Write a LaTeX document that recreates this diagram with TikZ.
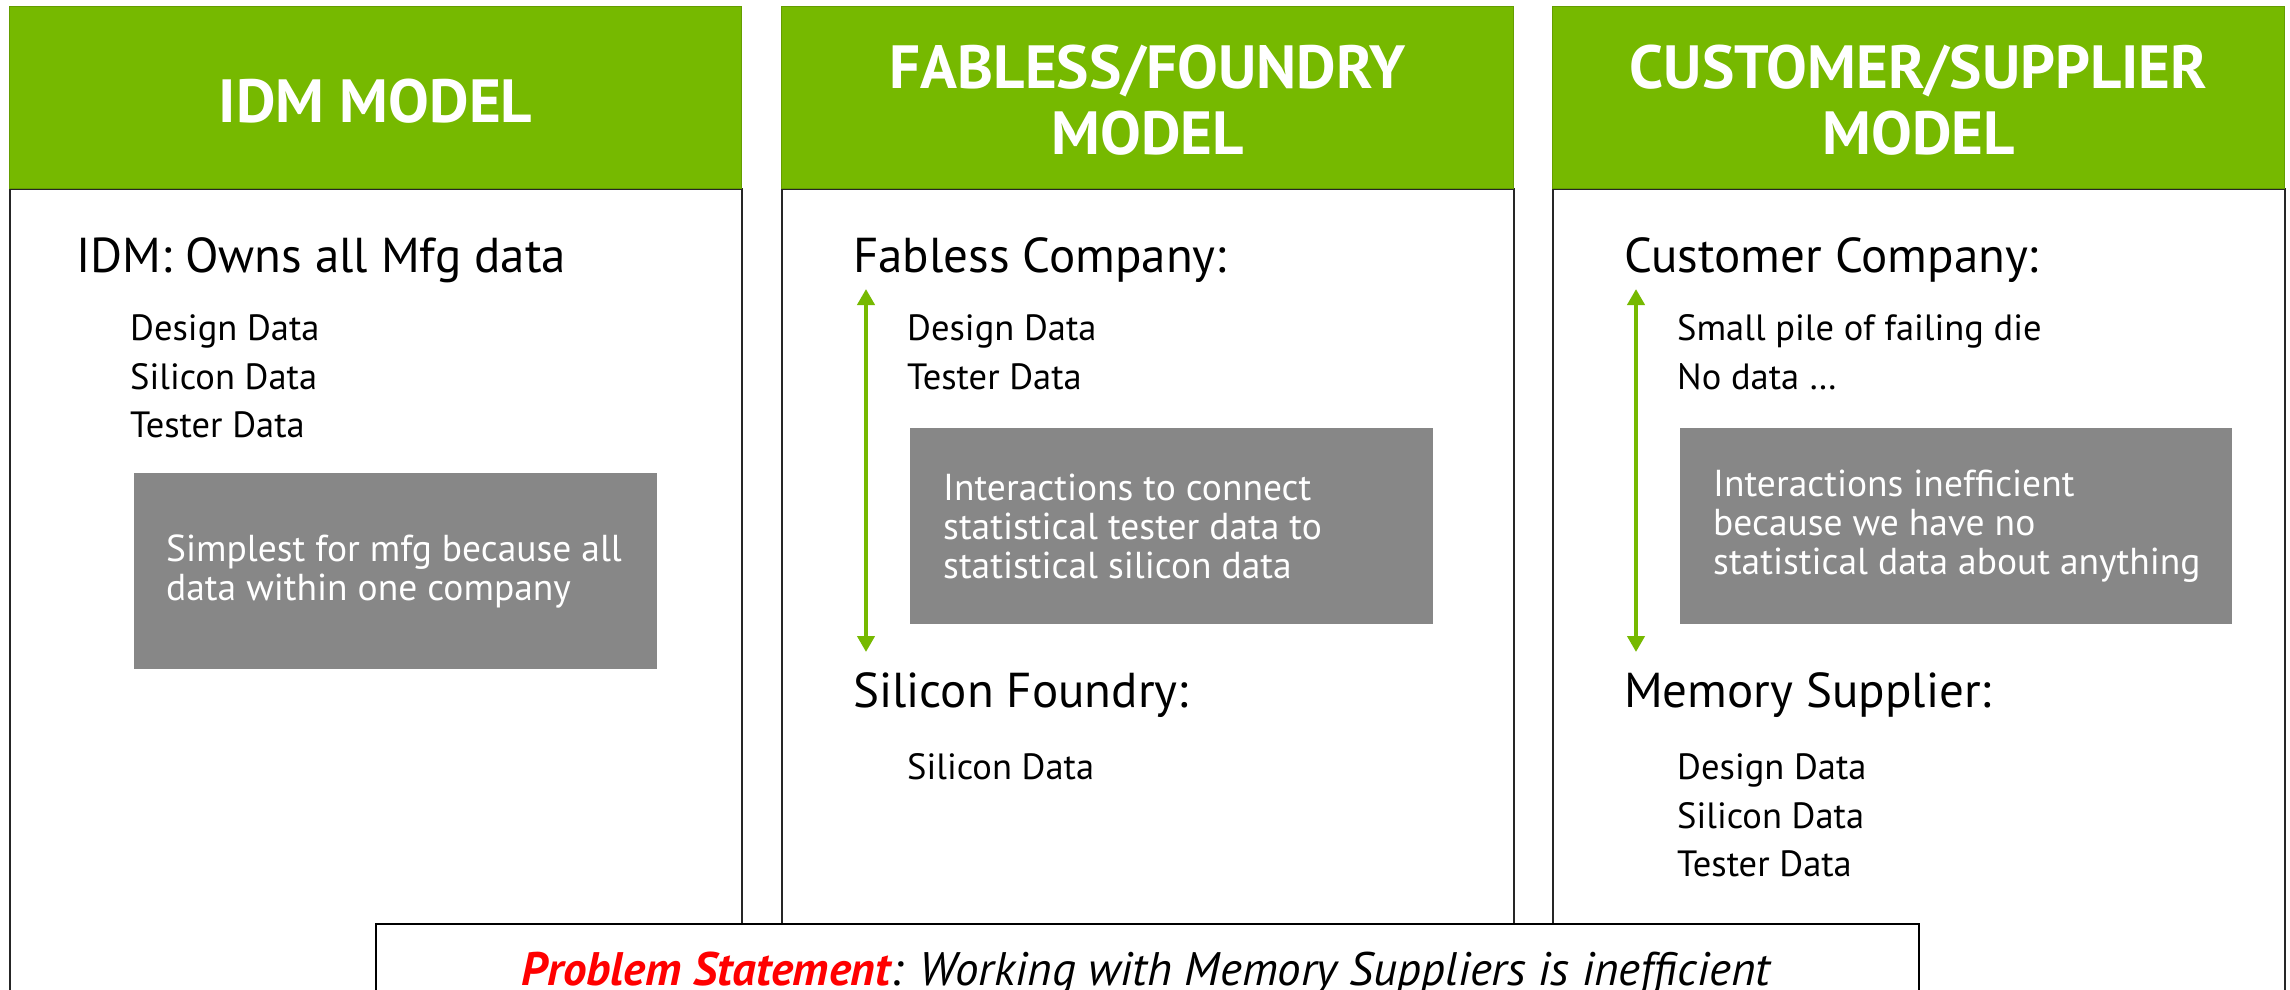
\documentclass[tikz,border=0pt]{standalone}
\usepackage{fontspec}
\setmainfont{PT Sans}
\usetikzlibrary{arrows.meta}
\definecolor{nvgreen}{HTML}{76B900}
\definecolor{boxgray}{HTML}{878787}
\definecolor{probred}{HTML}{FF0000}
\begin{document}
\begin{tikzpicture}[x=1pt,y=-1pt,
  head/.style={fill=nvgreen, draw=nvgreen!85!black, line width=1pt, anchor=north west,
    minimum width=732pt, minimum height=182pt, inner sep=0pt, align=center, text=white,
    font=\fontsize{61}{66}\selectfont\bfseries},
  headtxt/.style={inner sep=0pt, align=center, text=white,
    font=\fontsize{61}{66}\selectfont\bfseries},
  body/.style={draw=black!85, line width=1.5pt, fill=white, anchor=north west,
    minimum width=732pt, minimum height=900pt, inner sep=0pt},
  lbl/.style={anchor=base west, inner sep=0pt, font=\fontsize{49}{54}\selectfont},
  item/.style={anchor=base west, inner sep=0pt, font=\fontsize{36.5}{40}\selectfont},
  graybox/.style={fill=boxgray, draw=none, anchor=north west, inner sep=0pt},
  boxtxt/.style={anchor=west, inner sep=0pt, align=left, text=white,
    font=\fontsize{37.5}{39}\selectfont},
  link/.style={draw=nvgreen, line width=4pt,
    {Triangle[width=17pt,length=16pt]}-{Triangle[width=17pt,length=16pt]}},
]
\clip (0,0) rectangle (2290,989);
\fill[white] (0,0) rectangle (2290,989);

% three column frames
\node[body] (b1) at (9,188) {};
\node[body] (b2) at (781,188) {};
\node[body] (b3) at (1552,188) {};
\node[head] (h1) at (9,6) {};
\node[head] (h2) at (781,6) {};
\node[head] (h3) at (1552,6) {};
\node[headtxt] (h1t) at ([yshift=-4pt]h1.center) {IDM MODEL};
\node[headtxt] (h2t) at ([yshift=-3pt]h2.center) {FABLESS/FOUNDRY\\MODEL};
\node[headtxt] (h3t) at ([yshift=-3pt]h3.center) {CUSTOMER/SUPPLIER\\MODEL};

% IDM column
\node[lbl] (idm) at (76,272) {IDM: Owns all Mfg data};
\node[item] (idm1) at (130,340) {Design Data};
\node[item] (idm2) at (130,389) {Silicon Data};
\node[item] (idm3) at (130,437) {Tester Data};
\node[graybox, minimum width=523pt, minimum height=196pt] (g1) at (134,473) {};
\node[boxtxt] (g1t) at ([xshift=32pt]g1.west) {Simplest for mfg because all\\data within one company};

% fabless / foundry column
\node[lbl] (fab) at (853,272) {Fabless Company:};
\node[item] (fab1) at (907,340) {Design Data};
\node[item] (fab2) at (907,389) {Tester Data};
\node[graybox, minimum width=523pt, minimum height=196pt] (g2) at (910,428) {};
\node[boxtxt] (g2t) at ([xshift=33pt]g2.west) {Interactions to connect\\statistical tester data to\\statistical silicon data};
\node[lbl] (fdy) at (853,707) {Silicon Foundry:};
\node[item] (fdy1) at (907,779) {Silicon Data};
\coordinate (a2top) at (866,289);
\coordinate (a2bot) at (866,652);
\draw[link] (a2top) -- (a2bot);

% customer / supplier column
\node[lbl] (cus) at (1624,272) {Customer Company:};
\node[item] (cus1) at (1677,340) {Small pile of failing die};
\node[item] (cus2) at (1677,389) {No data …};
\node[graybox, minimum width=552pt, minimum height=196pt] (g3) at (1680,428) {};
\node[boxtxt] (g3t) at ([xshift=33pt]g3.west) {Interactions inefficient\\because we have no\\statistical data about anything};
\node[lbl] (sup) at (1624,707) {Memory Supplier:};
\node[item] (sup1) at (1677,779) {Design Data};
\node[item] (sup2) at (1677,828) {Silicon Data};
\node[item] (sup3) at (1677,876) {Tester Data};
\coordinate (a3top) at (1636,289);
\coordinate (a3bot) at (1636,652);
\draw[link] (a3top) -- (a3bot);

% problem statement banner
\node[draw=black, line width=2pt, fill=white, anchor=north west, minimum width=1543pt,
  minimum height=200pt, inner sep=0pt] (ps) at (375,923) {};
\node[anchor=base, inner sep=0pt, font=\fontsize{47}{52}\selectfont\itshape] (pst) at (1146,985)
  {\textcolor{probred}{\bfseries Problem Statement}: Working with Memory Suppliers is inefficient};
\end{tikzpicture}
\end{document}
